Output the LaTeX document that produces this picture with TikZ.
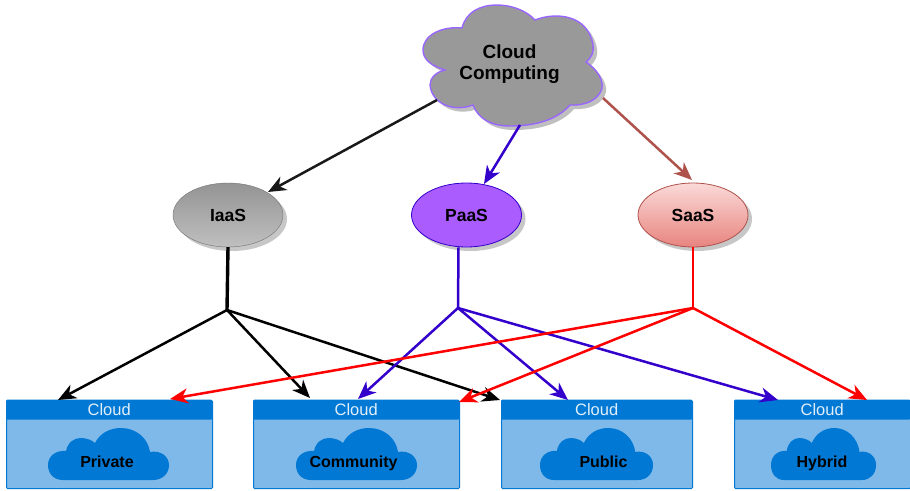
\documentclass[tikz,border=0pt]{standalone}
\usepackage{fontspec}
\setmainfont{Liberation Sans}
\usetikzlibrary{arrows.meta,shapes.geometric}
\definecolor{boxblue}{HTML}{0078D4}
\definecolor{boxlight}{HTML}{7FB9EA}
\definecolor{edgepurple}{HTML}{3300CC}
\definecolor{edgebrown}{HTML}{B0524C}
\definecolor{rim}{HTML}{9966FF}
\definecolor{paasfill}{HTML}{AA5CFF}
\definecolor{saastop}{HTML}{FADAD8}
\definecolor{saasbot}{HTML}{E8847F}
\tikzset{
  every picture/.style={x=1pt,y=-1pt},
  tip/.style={line width=2.5pt,-{Stealth[length=18pt,width=15pt,inset=5.5pt]}},
  oval/.style={ellipse,minimum width=110pt,minimum height=64pt,inner sep=0pt,font=\fontsize{17.5}{18}\selectfont\bfseries},
  cbox/.style={draw=boxblue,line width=1pt,fill=boxlight,rounded corners=1pt,minimum height=88pt,inner sep=0pt,anchor=north west},
  chead/.style={fill=boxblue,text=white!88!boxblue,rounded corners=1pt,minimum height=20pt,inner sep=0pt,anchor=north west,font=\fontsize{16.5}{17}\selectfont},
  clabel/.style={font=\fontsize{16}{17}\selectfont\bfseries,text=black,inner sep=0pt,anchor=base},
}
\newcommand{\smallcloud}[3]{%
  \begin{scope}[shift={(#1,#2)},xscale=#3]
    \fill[boxblue] (15,52) .. controls (5,52) and (0,45) .. (0,37)
      .. controls (0,28) and (8,22) .. (18,23)
      .. controls (20,14) and (26,10) .. (33,10)
      .. controls (38,10) and (44,12) .. (47,15)
      .. controls (52,5) and (62,0) .. (73,0)
      .. controls (88,0) and (100,10) .. (102,24)
      .. controls (112,22) and (121,28) .. (121,37)
      .. controls (121,46) and (114,52) .. (105,52) -- cycle;
  \end{scope}}
\newcommand{\bigcloud}{(445,70) .. controls (432,66) and (423,60) .. (423,50)
  .. controls (423,34) and (444,26) .. (462,28)
  .. controls (466,12) and (480,5) .. (497,5)
  .. controls (512,5) and (527,11) .. (535,20)
  .. controls (555,12) and (588,14) .. (593,45)
  .. controls (594,52) and (592,57) .. (586,62)
  .. controls (598,70) and (603,80) .. (602,88)
  .. controls (599,100) and (585,106) .. (570,105)
  .. controls (557,120) and (535,126) .. (510,126)
  .. controls (490,126) and (478,118) .. (473,105)
  .. controls (455,112) and (432,105) .. (430,85)
  .. controls (430,78) and (436,72) .. (445,70) -- cycle}
\begin{document}
\begin{tikzpicture}
\useasboundingbox (0,0) rectangle (910,490);
\fill[white] (0,0) rectangle (910,490);
% top cloud
\begin{scope}[shift={(4,4)}]
  \fill[black!25] \bigcloud;
\end{scope}
\draw[rim,line width=1.4pt,fill=black!40] \bigcloud;
\node[align=center,font=\fontsize{19}{21.5}\selectfont\bfseries,inner sep=0pt] (cc) at (509.5,64) {Cloud\\Computing};
% ovals
\foreach \cx in {232,470.5,697}{\fill[black!22] (\cx,219) ellipse [x radius=55,y radius=32];}
\node[oval,draw=black!55,top color=black!42,bottom color=black!25] (iaas) at (228,215) {IaaS};
\node[oval,draw=edgepurple,fill=paasfill,line width=0.8pt] (paas) at (466.5,215) {PaaS};
\node[oval,draw=edgebrown,top color=saastop,bottom color=saasbot,line width=0.8pt] (saas) at (693,215) {SaaS};
% boxes
\node[cbox,minimum width=206pt] (private) at (6,400) {};
\node[chead,minimum width=206pt,yshift=0.5pt] (h1) at (6,400) {Cloud};
\node[cbox,minimum width=206pt] (community) at (253,400) {};
\node[chead,minimum width=206pt,yshift=0.5pt] (h2) at (253,400) {Cloud};
\node[cbox,minimum width=191pt] (public) at (501,400) {};
\node[chead,minimum width=191pt,yshift=0.5pt] (h3) at (501,400) {Cloud};
\node[cbox,minimum width=176pt] (hybrid) at (734,400) {};
\node[chead,minimum width=176pt,yshift=0.5pt] (h4) at (734,400) {Cloud};
\smallcloud{48}{428}{1}
\smallcloud{296}{428}{1}
\smallcloud{540}{428}{0.934}
\smallcloud{771}{428}{0.868}
\node[clabel] (l1) at (107,467) {Private};
\node[clabel] (l2) at (353.5,467) {Community};
\node[clabel] (l3) at (603.5,467) {Public};
\node[clabel] (l4) at (822,467) {Hybrid};
% junctions and cloud outlets
\coordinate (ji) at (227,310);
\coordinate (jp) at (458,308);
\coordinate (js) at (693,308);
\coordinate (c1) at (437,100);
\coordinate (c2) at (520,125);
\coordinate (c3) at (603,98);
% from the top cloud
\draw[tip,black!90] (c1) -- ([xshift=40pt,yshift=23pt]iaas.center);
\draw[tip,edgepurple] (c2) -- ([xshift=17.5pt,yshift=31pt]paas.center);
\draw[tip,edgebrown] (c3) -- ([xshift=-1pt,yshift=35pt]saas.center);
% stems
\draw[black,line width=3.4pt] (iaas.south) -- (ji);
\draw[edgepurple,line width=2.5pt] ([xshift=-8pt]paas.south) -- (jp);
\draw[red,line width=2.8pt] (saas.south) -- (js);
% IaaS fan
\draw[tip,black] (ji) -- ([xshift=52pt]private.north west);
\draw[tip,black] (ji) -- ([xshift=57pt,yshift=2pt]community.north west);
\draw[tip,black] (ji) -- ([xshift=-1pt]public.north west);
% PaaS fan
\draw[tip,edgepurple] (jp) -- ([xshift=105pt,yshift=1pt]community.north west);
\draw[tip,edgepurple] (jp) -- ([xshift=67pt]public.north west);
\draw[tip,edgepurple] (jp) -- ([xshift=44pt]hybrid.north west);
% SaaS fan
\draw[tip,red] (js) -- ([xshift=164pt,yshift=1pt]private.north west);
\draw[tip,red] (js) -- ([xshift=206pt,yshift=-2pt]community.north west);
\draw[tip,red] (js) -- ([xshift=133pt]hybrid.north west);
\end{tikzpicture}
\end{document}
